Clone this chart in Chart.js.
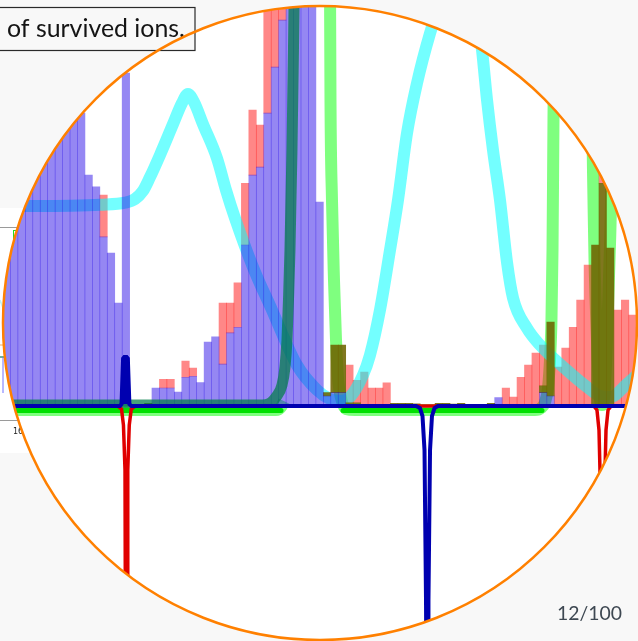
<!DOCTYPE html>
<html>
<head>
<meta charset="utf-8">
<script src="https://cdn.jsdelivr.net/npm/chart.js@4"></script>
<style>
  html, body { margin: 0; padding: 0; background: #f8f8f8; overflow: hidden; }
  canvas { display: block; }
</style>
</head>
<body>
<canvas id="c" width="638" height="641"></canvas>
<script>
// Histogram bins: bin i spans [i, i + 1] on the position axis.
const binCount = 86;

// Counts per bin (stacked: blue at the bottom, green next, red on top).
const blueCounts = [
  112, 116, 118, 118, 117, 114, 110, 104, 98, 92,
  87.3, 68.8, 65.3, 50.4, 45.6, 30.7, 99.2, 0, 0, 0,
  5.4, 5.4, 5.4, 4.2, 8.6, 8.9, 7.0, 19.1, 20.6, 12.5,
  21.8, 23.5, 48.0, 68.8, 71.2, 87.3, 101.0, 115.0, 128, 136,
  134, 126, 60.8, 3.0, 4.0, 4.0, 0, 0, 0, 0,
  0, 0, 0, 0, 0, 0, 0, 0, 0, 0,
  0, 0, 0, 0, 0, 0, 2.5, 0, 0, 0,
  0, 0, 4.0, 3.0, 0, 0, 0, 0, 0, 0,
  0, 0, 0, 0, 0, 0
];
const greenCounts = [
  0, 0, 0, 0, 0, 0, 0, 0, 0, 0,
  0, 0, 0, 0, 0, 0, 0, 0, 0, 0.8,
  0, 0, 0, 0, 0, 0, 0, 0, 0, 0,
  0, 0, 0, 0, 0, 0, 0, 0, 0, 0,
  0, 0, 0, 1.0, 14.2, 14.2, 1.0, 1.0, 0, 0,
  0, 0, 0.8, 0.8, 0.8, 0.7, 0, 0, 0.8, 0.8,
  0.6, 0.8, 0, 0, 0, 0.8, 0, 0, 0, 0,
  0, 0, 2.0, 22.0, 0, 0, 0, 0, 0, 48.0,
  66.4, 47.1, 0, 0, 0, 0
];
const redCounts = [
  0, 0, 0, 0, 0, 0, 0, 0, 0, 0,
  0, 0, 0, 12.5, 0, 0, 0, 0, 0, 0,
  0, 2.6, 2.6, 0, 4.8, 2.4, 0, 0, 0, 18.2,
  8.9, 13.2, 18.4, 19.4, 12.5, 36, 30, 20, 10, 8,
  0, 0, 0, 0, 0, 0, 11.2, 6.7, 10.1, 5.4,
  5.4, 6.9, 0, 0, 0, 0, 0, 0, 0, 0,
  0, 0, 0, 0, 0, 0, 0, 5.4, 2.7, 8.6,
  12.2, 15.8, 12.2, 0, 11.6, 17.3, 23.5, 31.6, 42.0, 0,
  3.9, 0, 28.6, 31.6, 27.1, 23.5
];

// Curves as [position, value] pairs; null breaks a curve.
const cyanCurve = [
  [0.94, 59.6], [4.97, 59.6], [8.99, 59.7], [13.02, 60.0], [16.38, 60.6],
  [17.72, 61.7], [18.79, 64.1], [19.73, 68.2], [21.07, 74.8], [22.82, 84.0],
  [24.03, 90.3], [24.83, 93.0], [25.64, 90.6], [26.85, 84.0], [28.72, 73.9],
  [29.93, 64.4], [31.14, 56.0], [33.56, 41.4], [36.11, 28.6], [39.46, 12.2],
  [42.15, 4.8], [43.89, 2.1], [45.23, 1.5], [46.58, 2.7], [48.32, 9.2],
  [49.26, 15.2], [50.60, 28.6], [51.95, 46.5], [53.02, 61.4], [54.23, 81.3],
  [55.57, 96.2], [57.32, 111.1], [58.66, 120.1], [61.07, 132.9], [63.36, 122.5],
  [64.30, 106.1], [64.97, 91.2], [65.77, 76.3], [66.71, 61.4], [67.65, 42.9],
  [68.46, 32.2], [70.34, 23.2], [72.08, 18.2], [75.70, 10.7], [78.39, 5.7],
  [80.13, 3.0], [81.48, 2.7], [83.76, 6.6], [85.50, 10.1]
];
const darkGreenCurve = [
  [-0.40, 0.30], [34.77, 0.30], [35.84, 0.89], [36.64, 2.68], [37.45, 6.26],
  [37.85, 11.62], [38.12, 19.67], [38.32, 31.59], [38.52, 46.48], [38.79, 76.28],
  [38.99, 106.08], [39.13, 129.9]
];
const limeCurve = [
  [-0.40, -1.19], [36.64, -1.19], [37.32, -0.30], [37.72, 1.49],
  null,
  [43.89, 129.9], [43.96, 91.2], [44.16, 61.4], [44.43, 37.5], [44.70, 19.7],
  [44.97, 8.3], [45.37, 2.4], [46.04, -0.89], [47.25, -1.19], [71.41, -1.19],
  [72.21, -0.60], [72.75, 1.19], [73.15, 5.36], [73.42, 13.71], [73.62, 25.63],
  [73.76, 46.48], [73.89, 85.22], [74.03, 120.98], [74.09, 129.9],
  null,
  [78.93, 129.9], [79.06, 91.2], [79.26, 61.4], [79.40, 43.5], [79.73, 19.7],
  [80.07, 3.3], [80.40, 0.3], [80.74, 3.3], [81.07, 19.7], [81.41, 43.5],
  [81.61, 61.4], [81.74, 91.2], [81.88, 129.9]
];
const floorCurve = [
  [-0.40, -1.34], [37.32, -1.34],
  null,
  [45.64, -1.34], [72.35, -1.34]
];
// Field lines; the narrow block near 16.3 is traced up and back to fill it.
const blueField = [
  [-0.40, 0], [15.70, 0], [15.91, 0.60], [16.12, 14.20], [16.28, 14.60],
  [16.44, 14.60], [16.44, 0.60], [16.44, 14.60], [16.60, 14.60], [16.76, 14.20],
  [16.97, 0.60], [17.25, 0], [55.44, 0],
  [55.97, -0.60], [56.31, -2.98], [56.58, -13.11], [56.78, -57.81], [56.85, -87.6],
  [57.05, -87.6], [57.11, -57.81], [57.32, -13.11], [57.58, -2.98], [57.92, -0.60],
  [58.39, 0], [85.50, 0]
];
const redField = [
  [-0.40, 0], [15.44, 0], [15.91, -0.89], [16.17, -5.66], [16.38, -19.07],
  [16.46, -87.6], [16.67, -87.6], [16.75, -19.07], [16.95, -5.66], [17.22, -0.89],
  [17.72, 0], [79.33, 0], [79.73, -1.19], [80.00, -7.15], [80.13, -19.07],
  [80.34, -87.6], [80.67, -87.6], [80.81, -19.07], [80.94, -7.15], [81.21, -1.19],
  [81.61, 0], [85.50, 0]
];

// Visible window of the axes
const X_MIN = -0.40, X_MAX = 85.235;
const Y_MIN = -70, Y_MAX = 121;

const toBars = counts => counts.map((v, i) => ({ x: i + 0.5, y: v === 0 ? null : v }));
const toPoints = pairs => {
  let lastX = X_MIN;
  return pairs.map(p => {
    if (p === null) return { x: lastX, y: null };
    lastX = p[0];
    return { x: p[0], y: p[1] };
  });
};

const barBase = {
  type: 'bar', stack: 'counts', yAxisID: 'y',
  barPercentage: 1, categoryPercentage: 1, borderWidth: 0
};
const lineBase = {
  type: 'line', yAxisID: 'y2', pointRadius: 0, pointHoverRadius: 0,
  fill: false, spanGaps: false
};

// Lens geometry and slide decorations
const lens = { cx: 320, cy: 323, r: 317 };
const FONT = 'Lato, "Open Sans", "DejaVu Sans", sans-serif';

const slide = {
  id: 'slide',
  beforeDraw(chart) {
    const ctx = chart.ctx;
    ctx.save();
    ctx.fillStyle = '#f8f8f8';
    ctx.fillRect(0, 0, chart.width, chart.height);

    // edge of the figure lying under the lens
    ctx.fillStyle = '#ffffff';
    ctx.fillRect(0, 208, 60, 245);
    const seg = (x1, y1, x2, y2, c, w) => {
      ctx.strokeStyle = c; ctx.lineWidth = w;
      ctx.beginPath(); ctx.moveTo(x1, y1); ctx.lineTo(x2, y2); ctx.stroke();
    };
    seg(0, 227.5, 60, 227.5, '#9a9a9a', 1);
    seg(0, 420.5, 60, 420.5, '#9a9a9a', 1);
    ctx.strokeStyle = '#22dd22'; ctx.lineWidth = 1;
    ctx.strokeRect(13.5, 230.5, 3, 12);
    seg(0, 345, 10, 345, '#f3b060', 1);
    seg(0, 357, 12, 357, '#3a9a7a', 1.5);
    seg(3, 357, 3, 393, '#7070ff', 1);
    seg(0, 300, 6, 316, '#bff4f4', 1.5);
    ctx.fillStyle = '#222';
    ctx.font = '8px "DejaVu Sans", sans-serif';
    ctx.textBaseline = 'alphabetic';
    ctx.fillText('16', 13, 434);

    ctx.beginPath();
    ctx.arc(lens.cx, lens.cy, lens.r, 0, Math.PI * 2);
    ctx.fillStyle = '#ffffff';
    ctx.fill();
    ctx.restore();
  },
  beforeDatasetsDraw(chart) {
    const ctx = chart.ctx;
    ctx.save();
    ctx.beginPath();
    ctx.arc(lens.cx, lens.cy, lens.r, 0, Math.PI * 2);
    ctx.clip();
  },
  afterDatasetsDraw(chart) {
    chart.ctx.restore();
  },
  afterDraw(chart) {
    const ctx = chart.ctx;
    ctx.save();
    const fitFont = (text, width) => {
      ctx.font = '20px ' + FONT;
      const w = ctx.measureText(text).width;
      return (20 * width / w).toFixed(2) + 'px ' + FONT;
    };

    // caption box
    ctx.fillStyle = '#f8f8f8';
    ctx.fillRect(-2, 7.5, 197, 43);
    ctx.strokeStyle = '#2a2a2a';
    ctx.lineWidth = 1.2;
    ctx.strokeRect(-2, 7.5, 197, 43);
    const caption = 'of survived ions.';
    ctx.font = fitFont(caption, 178);
    ctx.fillStyle = '#141414';
    ctx.textAlign = 'left';
    ctx.textBaseline = 'alphabetic';
    ctx.fillText(caption, 7, 37);

    // page number
    const page = '12/100';
    ctx.font = fitFont(page, 65);
    ctx.fillStyle = '#3e4852';
    ctx.textAlign = 'right';
    ctx.fillText(page, 622, 620);

    // lens rim
    ctx.beginPath();
    ctx.arc(lens.cx, lens.cy, lens.r, 0, Math.PI * 2);
    ctx.strokeStyle = '#ff8000';
    ctx.lineWidth = 2.5;
    ctx.stroke();
    ctx.restore();
  }
};

new Chart(document.getElementById('c'), {
  type: 'bar',
  data: {
    datasets: [
      { ...lineBase, label: 'lime', data: toPoints(limeCurve), order: 20,
        borderColor: 'rgba(0,255,0,0.5)', borderWidth: 12, cubicInterpolationMode: 'monotone' },
      { ...barBase, label: 'red', data: toBars(redCounts), order: 12,
        backgroundColor: 'rgba(255,0,0,0.47)' },
      { ...lineBase, label: 'cyan', data: toPoints(cyanCurve), order: 11,
        borderColor: 'rgba(0,255,255,0.55)', borderWidth: 12, cubicInterpolationMode: 'monotone' },
      { ...barBase, label: 'green', data: toBars(greenCounts), order: 10,
        backgroundColor: 'rgba(110,100,0,0.88)' },
      { ...barBase, label: 'blue', data: toBars(blueCounts), order: 9,
        backgroundColor: 'rgba(30,0,230,0.47)' },
      { ...lineBase, label: 'darkgreen', data: toPoints(darkGreenCurve), order: 5,
        borderColor: 'rgba(0,125,70,0.72)', borderWidth: 11, cubicInterpolationMode: 'monotone' },
      { ...lineBase, label: 'floor', data: toPoints(floorCurve), order: 4,
        borderColor: '#00e000', borderWidth: 5, borderCapStyle: 'round', tension: 0 },
      { ...lineBase, label: 'redField', data: toPoints(redField), order: 3,
        borderColor: '#e00000', borderWidth: 3.5, tension: 0 },
      { ...lineBase, label: 'blueField', data: toPoints(blueField), order: 2,
        borderColor: '#0000b0', borderWidth: 4, tension: 0 }
    ]
  },
  options: {
    responsive: false,
    animation: false,
    devicePixelRatio: 1,
    events: [],
    layout: { padding: 0 },
    plugins: { legend: { display: false }, tooltip: { enabled: false } },
    scales: {
      x: { type: 'linear', min: X_MIN, max: X_MAX, offset: false, stacked: true, display: false },
      y: { type: 'linear', min: Y_MIN, max: Y_MAX, stacked: true, display: false },
      y2: { type: 'linear', min: Y_MIN, max: Y_MAX, display: false }
    }
  },
  plugins: [slide]
});
</script>
</body>
</html>
